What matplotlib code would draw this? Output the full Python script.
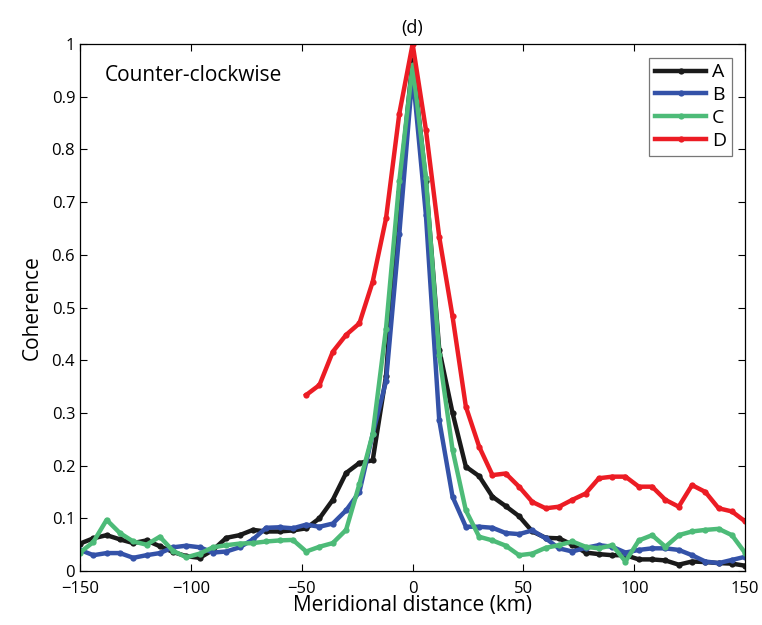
import numpy as np
import matplotlib
matplotlib.use("Agg")
import matplotlib.pyplot as plt

plt.rcParams['font.family'] = ['Open Sans', 'DejaVu Sans']

x_full = list(range(-150, 151, 6))
x_red = list(range(-48, 151, 6))

series_A = [0.052, 0.062, 0.068, 0.060, 0.053, 0.058, 0.047, 0.036, 0.028, 0.025,
            0.040, 0.063, 0.068, 0.078, 0.075, 0.075, 0.077, 0.081, 0.100, 0.135,
            0.186, 0.205, 0.210, 0.370, 0.720, 0.970, 0.740, 0.420, 0.300, 0.198,
            0.180, 0.141, 0.123, 0.104, 0.075, 0.063, 0.062, 0.050, 0.035, 0.032,
            0.030, 0.030, 0.022, 0.022, 0.020, 0.012, 0.018, 0.017, 0.015, 0.014, 0.010]
series_B = [0.040, 0.030, 0.034, 0.034, 0.025, 0.030, 0.034, 0.045, 0.048, 0.045,
            0.035, 0.037, 0.045, 0.060, 0.082, 0.083, 0.081, 0.088, 0.084, 0.090,
            0.115, 0.150, 0.260, 0.360, 0.640, 0.945, 0.675, 0.286, 0.141, 0.084,
            0.084, 0.082, 0.072, 0.070, 0.077, 0.062, 0.043, 0.037, 0.044, 0.049,
            0.046, 0.035, 0.040, 0.043, 0.043, 0.040, 0.030, 0.018, 0.015, 0.021, 0.027]
series_C = [0.035, 0.055, 0.097, 0.072, 0.056, 0.050, 0.065, 0.038, 0.026, 0.033,
            0.045, 0.049, 0.052, 0.053, 0.056, 0.058, 0.059, 0.037, 0.046, 0.053,
            0.078, 0.165, 0.260, 0.460, 0.740, 0.960, 0.745, 0.410, 0.230, 0.115,
            0.065, 0.058, 0.048, 0.030, 0.033, 0.044, 0.049, 0.056, 0.046, 0.043,
            0.049, 0.018, 0.058, 0.068, 0.046, 0.068, 0.075, 0.078, 0.080, 0.068, 0.034]
series_D = [0.334, 0.353, 0.416, 0.448, 0.470, 0.549, 0.669, 0.868, 1.000, 0.837,
            0.634, 0.483, 0.312, 0.236, 0.182, 0.185, 0.160, 0.131, 0.119, 0.122,
            0.135, 0.147, 0.176, 0.179, 0.179, 0.160, 0.160, 0.135, 0.122, 0.163,
            0.150, 0.119, 0.113, 0.094]

labels = ['A', 'B', 'C', 'D']
colors = ['#1a1a1a', '#3452a8', '#4dbb78', '#ec1c24']

fig = plt.figure(figsize=(7.62, 6.25), dpi=100)
ax = fig.add_axes([0.105, 0.0864, 0.873, 0.8432])

for xs, ys, lab, col in [(x_full, series_A, 'A', colors[0]),
                         (x_full, series_B, 'B', colors[1]),
                         (x_full, series_C, 'C', colors[2]),
                         (x_red, series_D, 'D', colors[3])]:
    ax.plot(xs, ys, color=col, lw=3.2, marker='o', ms=4.5, mew=0, label=lab,
            solid_joinstyle='round')

ax.set_xlim(-150, 150)
ax.set_ylim(0, 1)
ax.set_xticks(np.arange(-150, 151, 50))
ax.set_yticks(np.arange(0, 1.01, 0.1))
ax.set_yticklabels(['0', '0.1', '0.2', '0.3', '0.4', '0.5', '0.6', '0.7', '0.8', '0.9', '1'])
ax.tick_params(direction='in', top=True, right=True, labelsize=12, length=5, width=0.8)
ax.tick_params(axis='x', pad=7)
for s in ax.spines.values():
    s.set_linewidth(0.9)

ax.set_xlabel('Meridional distance (km)', fontsize=15, labelpad=-1)
ax.set_ylabel('Coherence', fontsize=15, labelpad=6)
ax.set_title('(d)', fontsize=13, pad=8)
ax.text(-139, 0.94, 'Counter-clockwise', fontsize=15, va='center', ha='left')

leg = ax.legend(loc='upper right', fontsize=14, frameon=True, fancybox=False,
                edgecolor='#555555', handlelength=2.6, borderpad=0.3,
                labelspacing=0.25, handletextpad=0.3, borderaxespad=0.7)
leg.get_frame().set_linewidth(0.9)

fig.savefig('out.png', dpi=100)
